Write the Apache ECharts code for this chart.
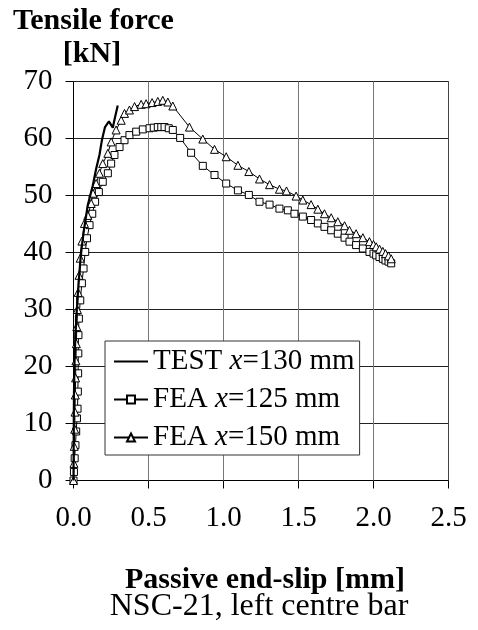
<!DOCTYPE html>
<html><head><meta charset="utf-8">
<script src="https://cdn.jsdelivr.net/npm/echarts@6/dist/echarts.min.js"></script>
<style>html,body{margin:0;padding:0;background:#fff}#c{width:478px;height:630px;background:#fff}</style>
</head><body><div id="c"></div>
<script>
// ---- data (slip in mm, force in kN) ----
const testSlip  = [0, 0.001, 0.002, 0.003, 0.006, 0.012, 0.022, 0.035, 0.05, 0.07, 0.095, 0.129, 0.151, 0.173, 0.19, 0.21, 0.236, 0.262, 0.275, 0.295];
const testForce = [0, 5, 10, 15, 20, 25, 30, 35, 40, 44, 48.3, 51.8, 54.7, 57.1, 59.8, 62.0, 63.0, 61.9, 63.5, 65.8];

const fea125Slip  = [0, 0.003, 0.008, 0.013, 0.018, 0.023, 0.027, 0.029, 0.031, 0.032, 0.033, 0.036, 0.045, 0.056, 0.067, 0.078, 0.09, 0.107, 0.125, 0.144, 0.169, 0.195, 0.229, 0.251, 0.273, 0.307, 0.34, 0.373, 0.418, 0.462, 0.507, 0.535, 0.562, 0.585, 0.607, 0.635, 0.662, 0.711, 0.784, 0.862, 0.94, 1.018, 1.096, 1.169, 1.24, 1.307, 1.373, 1.429, 1.473, 1.529, 1.584, 1.629, 1.673, 1.718, 1.762, 1.807, 1.84, 1.884, 1.929, 1.973, 2.0, 2.018, 2.04, 2.062, 2.08, 2.1, 2.118];
const fea125Force = [0, 1.5, 3.9, 6.2, 8.6, 10.9, 12.6, 15.6, 18.8, 22.3, 25.5, 28.4, 31.6, 34.6, 37.2, 40.1, 42.5, 44.8, 46.8, 48.9, 50.6, 52.4, 53.9, 55.6, 57.1, 58.5, 59.7, 60.6, 61.2, 61.6, 61.8, 61.9, 62.0, 62.0, 62.0, 61.8, 61.5, 60.1, 57.5, 55.2, 53.6, 52.1, 50.9, 50.1, 48.9, 48.4, 47.7, 47.4, 46.8, 46.3, 45.7, 45.1, 44.5, 43.9, 43.3, 42.6, 41.9, 41.3, 40.7, 40.1, 39.8, 39.5, 39.2, 38.9, 38.6, 38.4, 38.1];

const fea150Slip  = [0, 0.003, 0.005, 0.008, 0.01, 0.012, 0.014, 0.016, 0.019, 0.022, 0.026, 0.031, 0.037, 0.045, 0.056, 0.073, 0.095, 0.118, 0.129, 0.151, 0.173, 0.195, 0.229, 0.251, 0.284, 0.318, 0.34, 0.373, 0.407, 0.451, 0.484, 0.524, 0.562, 0.595, 0.629, 0.662, 0.773, 0.862, 0.94, 1.018, 1.096, 1.169, 1.24, 1.307, 1.373, 1.42, 1.484, 1.529, 1.584, 1.629, 1.673, 1.718, 1.762, 1.807, 1.84, 1.884, 1.929, 1.973, 2.0, 2.018, 2.04, 2.062, 2.08, 2.1, 2.118];
const fea150Force = [0, 3, 6, 9, 12, 15, 18, 21, 24, 27, 30, 33, 36, 39, 42, 45.1, 46.5, 48.6, 50.4, 52.1, 53.9, 55.6, 57.4, 59.4, 61.5, 63.2, 64.4, 65.0, 65.6, 66.0, 66.1, 66.3, 66.5, 66.7, 66.4, 65.7, 62.0, 59.9, 58.1, 56.8, 55.3, 54.2, 52.9, 51.9, 51.1, 50.8, 49.9, 49.2, 48.4, 47.6, 46.8, 46.1, 45.4, 44.7, 43.9, 43.3, 42.6, 41.9, 41.4, 41.0, 40.6, 40.2, 39.8, 39.4, 38.9];

const xTicks = [0, 0.5, 1.0, 1.5, 2.0, 2.5];
const yTicks = [0, 10, 20, 30, 40, 50, 60, 70];

const seriesNames = ['TEST x=130 mm', 'FEA x=125 mm', 'FEA x=150 mm'];
const legendRich  = ['{r|TEST }{i|x}{r|=130 mm}', '{r|FEA }{i|x}{r|=125 mm}', '{r|FEA }{i|x}{r|=150 mm}'];

const titleY = ['Tensile force', '[kN]'];
const titleX = 'Passive end-slip [mm]';
const caption = 'NSC-21, left centre bar';

// ---- chart ----
const FONT = '"Liberation Serif", "Times New Roman", serif';
const X_MIN = xTicks[0], X_MAX = xTicks[xTicks.length - 1];
const Y_MIN = yTicks[0], Y_MAX = yTicks[yTicks.length - 1];
function pairs(xs, ys) { return xs.map((x, i) => [x, ys[i]]); }
function titleText(text, left, top, align, size, weight) {
  return { text: text, left: left, top: top, textAlign: align, padding: 0,
    textStyle: { fontFamily: FONT, fontSize: size, fontWeight: weight, color: '#000' } };
}
function gridSeries(name, data, color) {
  return { name: name, type: 'line', data: data, symbol: 'none', showSymbol: false,
    silent: true, animation: false, clip: false, z: 1,
    lineStyle: { color: color, width: 1, type: 'solid' }, itemStyle: { color: color },
    emphasis: { disabled: true }, tooltip: { show: false } };
}
// grid lines and plot frame, placed by the axes' own scales from the tick values
const hGrid = yTicks.filter(v => v > Y_MIN).map(v => gridSeries('gy' + v, [[X_MIN, v], [X_MAX, v]], '#222'));
const vGrid = xTicks.filter(v => v > X_MIN).map(v => gridSeries('gx' + v, [[v, Y_MIN], [v, Y_MAX]], v === X_MAX ? '#444' : '#777'));

const chart = echarts.init(document.getElementById('c'), null, { renderer: 'canvas' });
chart.setOption({
  animation: false,
  textStyle: { fontFamily: FONT },
  title: [
    titleText(titleY[0], 13, 6, 'left', 30, 'bold'),
    titleText(titleY[1], 92, 39, 'center', 30, 'bold'),
    titleText(titleX, 265, 565, 'center', 30, 'bold'),
    titleText(caption, 259, 591, 'center', 32, 'normal')
  ],
  grid: { left: 73.5, top: 81.5, right: 29.5, bottom: 149.5 },
  xAxis: {
    type: 'value', min: X_MIN, max: X_MAX, interval: 0.5,
    axisLine: { show: true, onZero: false, lineStyle: { color: '#000', width: 1 } },
    axisTick: { show: true, inside: false, length: 8, lineStyle: { color: '#000' } },
    axisLabel: { fontFamily: FONT, fontSize: 29, color: '#000', margin: 23, formatter: v => v.toFixed(1) },
    splitLine: { show: true, lineStyle: { color: '#777', width: 1, type: 'solid' } }
  },
  yAxis: {
    type: 'value', min: Y_MIN, max: Y_MAX, interval: 10,
    axisLine: { show: true, onZero: false, lineStyle: { color: '#000', width: 1 } },
    axisTick: { show: true, inside: false, length: 8, lineStyle: { color: '#000' } },
    axisLabel: { fontFamily: FONT, fontSize: 29, color: '#000', margin: 21 },
    splitLine: { show: true, lineStyle: { color: '#222', width: 1, type: 'solid' } }
  },
  legend: {
    orient: 'vertical', left: 105, top: 341, z: 10,
    backgroundColor: '#fff', borderColor: '#333', borderWidth: 1,
    padding: [6, 5, 3, 8], itemGap: 9, itemWidth: 34, itemHeight: 10,
    data: seriesNames,
    formatter: name => legendRich[seriesNames.indexOf(name)],
    textStyle: {
      fontFamily: FONT, fontSize: 29, color: '#000',
      rich: {
        r: { fontFamily: FONT, fontSize: 29, color: '#000', lineHeight: 29 },
        i: { fontFamily: FONT, fontSize: 29, color: '#000', fontStyle: 'italic', lineHeight: 29 }
      }
    }
  },
  series: hGrid.concat(vGrid).concat([
    {
      name: seriesNames[0], type: 'line', data: pairs(testSlip, testForce),
      symbol: 'none', showSymbol: false, smooth: false,
      lineStyle: { color: '#000', width: 2.2 }, itemStyle: { color: '#000', opacity: 0 }, z: 8
    },
    {
      name: seriesNames[1], type: 'line', data: pairs(fea125Slip, fea125Force),
      symbol: 'rect', symbolSize: 7,
      lineStyle: { color: '#000', width: 1 },
      itemStyle: { color: '#fff', borderColor: '#000', borderWidth: 1 }, z: 6
    },
    {
      name: seriesNames[2], type: 'line', data: pairs(fea150Slip, fea150Force),
      symbol: 'triangle', symbolSize: 8,
      lineStyle: { color: '#000', width: 1 },
      itemStyle: { color: '#fff', borderColor: '#000', borderWidth: 1 }, z: 7
    }
  ])
});
</script>
</body></html>
